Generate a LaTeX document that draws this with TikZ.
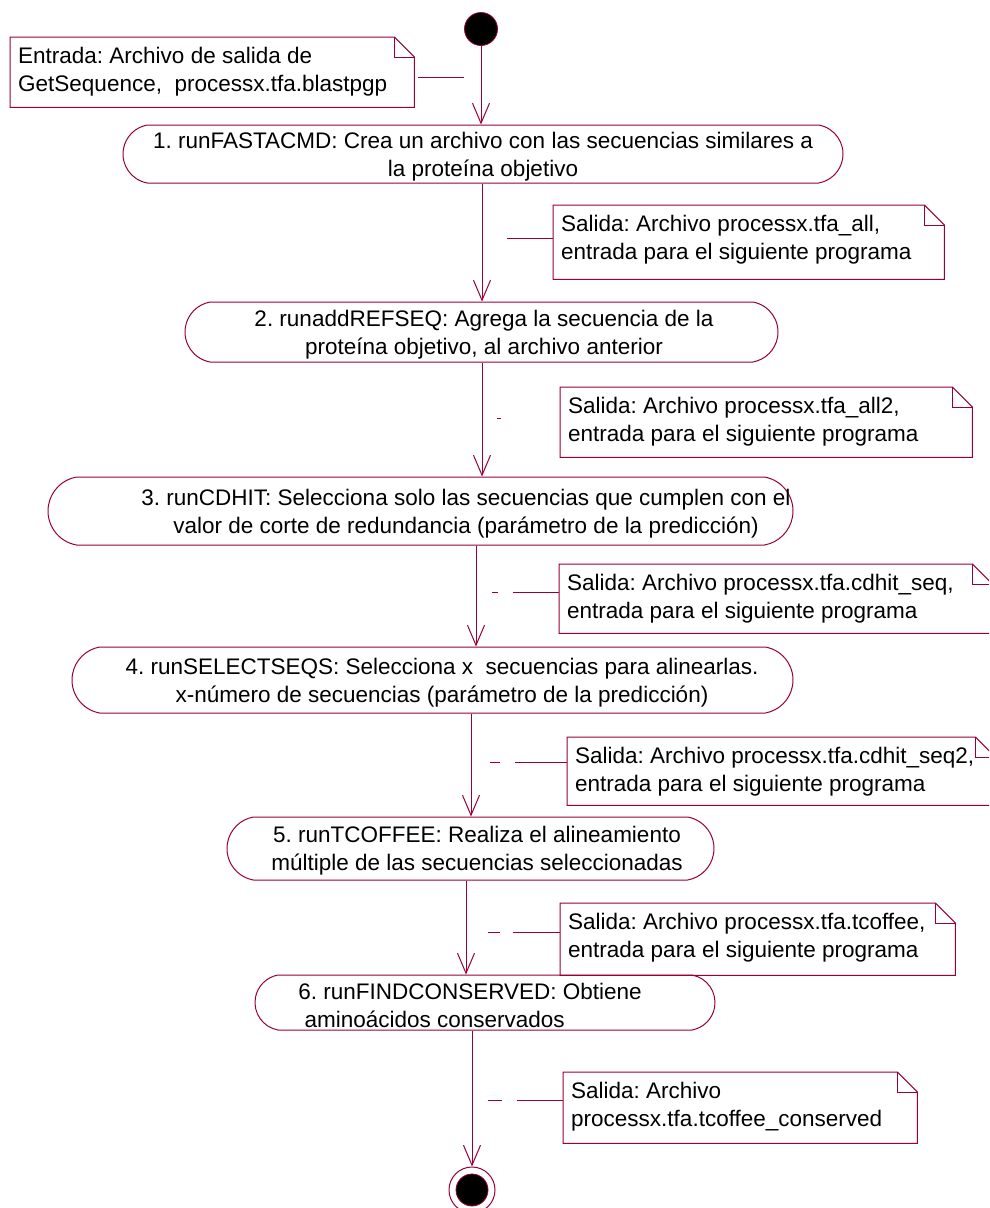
\documentclass[tikz,border=0pt]{standalone}
\usepackage{fontspec}
\setmainfont{Liberation Sans}
\usetikzlibrary{arrows.meta,shapes.misc}
\definecolor{umlred}{RGB}{153,0,51}
\frenchspacing
\newcommand\notefold[1]{%
  \draw[link] (#1.north west) -- ([xshift=-20pt]#1.north east) -- ([yshift=-20pt]#1.north east) -- (#1.south east) -- (#1.south west) -- cycle;
  \draw[link] ([xshift=-20pt]#1.north east) |- ([yshift=-20pt]#1.north east);}
\begin{document}
\begin{tikzpicture}[x=1pt,y=-1pt,
  every node/.style={font=\fontsize{22.5}{28}\selectfont},
  act/.style={rounded rectangle, rounded rectangle arc length=160, draw=umlred, line width=1pt, inner sep=0pt},
  txt/.style={align=center, inner sep=0pt, text=black},
  notebox/.style={rectangle, draw=none, inner sep=0pt, anchor=north west},
  notetxt/.style={align=left, inner sep=0pt, anchor=north west},
  flow/.style={draw=umlred, line width=1pt, -{Straight Barb[length=20pt,width=17pt]}},
  link/.style={draw=umlred, line width=1pt},
]
\useasboundingbox (0,0) rectangle (989,1208);
\clip (0,0) rectangle (989,1208);

% start / end
\node[circle, fill=black, draw=umlred, line width=0.8pt, minimum size=33pt, inner sep=0pt] (start) at (481,29) {};
\node[circle, draw=umlred, line width=1pt, minimum size=46pt, inner sep=0pt] (end) at (472,1190) {};
\node[circle, fill=black, draw=umlred, line width=0.8pt, minimum size=32pt, inner sep=0pt] (endin) at (472,1190) {};

% activities
\node[act, minimum width=720pt, minimum height=58pt] (a1) at (483,154) {};
\node[txt] (a1t) at (483,157) {1. runFASTACMD: Crea un archivo con las secuencias similares a\\la proteína objetivo};
\node[act, minimum width=593pt, minimum height=60pt] (a2) at (481.5,332) {};
\node[txt] (a2t) at (484,335) {2. runaddREFSEQ: Agrega la secuencia de la\\proteína objetivo, al archivo anterior};
\node[act, minimum width=745pt, minimum height=68pt] (a3) at (420.5,511) {};
\node[txt] (a3t) at (466,514) {3. runCDHIT: Selecciona solo las secuencias que cumplen con el\\valor de corte de redundancia (parámetro de la predicción)};
\node[act, minimum width=721pt, minimum height=66pt] (a4) at (432.5,680) {};
\node[txt] (a4t) at (442,683) {4. runSELECTSEQS: Selecciona x\ \ secuencias para alinearlas.\\x-número de secuencias (parámetro de la predicción)};
\node[act, minimum width=487pt, minimum height=63pt] (a5) at (470.5,848.5) {};
\node[txt] (a5t) at (477,851) {5. runTCOFFEE: Realiza el alineamiento\\múltiple de las secuencias seleccionadas};
\node[act, minimum width=460pt, minimum height=55pt] (a6) at (485,1002.5) {};
\node[txt, align=left] (a6t) at (470,1005) {6. runFINDCONSERVED: Obtiene\\\ aminoácidos conservados};

% notes
\node[notebox, minimum width=404pt, minimum height=70pt] (n0) at (10,37) {};
\notefold{n0}
\node[notetxt] (n0t) at (18,47) {Entrada: Archivo de salida de\\GetSequence,\ \ processx.tfa.blastpgp};
\node[notebox, minimum width=391pt, minimum height=74pt] (n1) at (553,205) {};
\notefold{n1}
\node[notetxt] (n1t) at (561,215) {Salida: Archivo processx.tfa\_all,\\entrada para el siguiente programa};
\node[notebox, minimum width=412pt, minimum height=70pt] (n2) at (560,387) {};
\notefold{n2}
\node[notetxt] (n2t) at (568,397) {Salida: Archivo processx.tfa\_all2,\\entrada para el siguiente programa};
\node[notebox, minimum width=433pt, minimum height=69pt] (n3) at (559,564) {};
\notefold{n3}
\node[notetxt] (n3t) at (567,574) {Salida: Archivo processx.tfa.cdhit\_seq,\\entrada para el siguiente programa};
\node[notebox, minimum width=428pt, minimum height=68pt] (n4) at (567,737) {};
\notefold{n4}
\node[notetxt] (n4t) at (575,747) {Salida: Archivo processx.tfa.cdhit\_seq2,\\entrada para el siguiente programa};
\node[notebox, minimum width=395pt, minimum height=72pt] (n5) at (560,903) {};
\notefold{n5}
\node[notetxt] (n5t) at (568,913) {Salida: Archivo processx.tfa.tcoffee,\\entrada para el siguiente programa};
\node[notebox, minimum width=354pt, minimum height=71pt] (n6) at (563,1072) {};
\notefold{n6}
\node[notetxt] (n6t) at (571,1082) {Salida: Archivo\\processx.tfa.tcoffee\_conserved};

% flows
\draw[flow] (start.south) -- (a1.north -| start.south);
\draw[flow] (a1.south -| 482,0) -- (a2.north -| 482,0);
\draw[flow] (a2.south -| 482,0) -- (a3.north -| 482,0);
\draw[flow] (a3.south -| 476,0) -- (a4.north -| 476,0);
\draw[flow] (a4.south -| 471,0) -- (a5.north -| 471,0);
\draw[flow] (a5.south -| 466,0) -- (a6.north -| 466,0);
\draw[flow] (a6.south -| end) -- (end.north);

% note anchors
\coordinate (c0) at (464,77);
\draw[link, shorten <=4pt] (n0.east |- c0) -- (c0);
\coordinate (c1) at (507,238);
\draw[link] (n1.west |- c1) -- (c1);
\coordinate (c2) at (497,418);
\draw[link, dash pattern=on 0pt off 59pt on 4pt off 100pt] (n2.west |- c2) -- (c2);
\coordinate (c3) at (492,592);
\draw[link, dash pattern=on 46pt off 15pt on 6pt off 100pt] (n3.west |- c3) -- (c3);
\coordinate (c4) at (490,762);
\draw[link, dash pattern=on 52pt off 15pt on 10pt off 100pt] (n4.west |- c4) -- (c4);
\coordinate (c5) at (488,932);
\draw[link, dash pattern=on 47pt off 13pt on 12pt off 100pt] (n5.west |- c5) -- (c5);
\coordinate (c6) at (488,1100);
\draw[link, dash pattern=on 46pt off 15pt on 14pt off 100pt] (n6.west |- c6) -- (c6);
\end{tikzpicture}
\end{document}
